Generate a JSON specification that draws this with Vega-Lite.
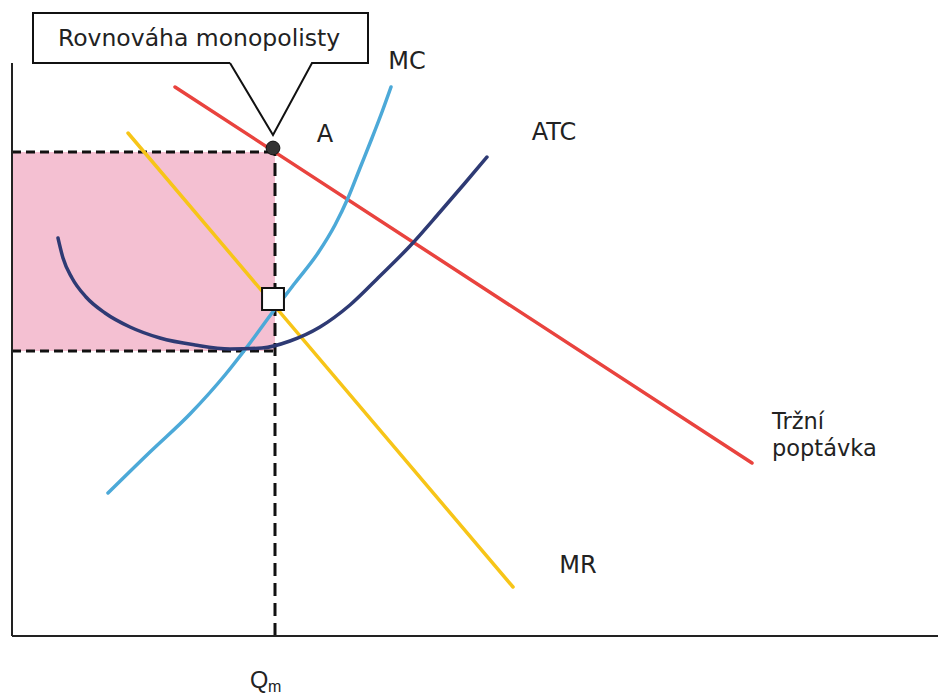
{
  "$schema": "https://vega.github.io/schema/vega-lite/v6.json",
  "width": 938,
  "height": 699,
  "autosize": {"type": "none"},
  "padding": 0,
  "background": "white",
  "config": {"view": {"stroke": null}},
  "datasets": {
    "curves": [
      {"s": "D", "q": 163, "p": 549}, {"s": "D", "q": 740, "p": 173},
      {"s": "MR", "q": 116, "p": 503}, {"s": "MR", "q": 501, "p": 49},
      {"s": "MC", "q": 96, "p": 143}, {"s": "MC", "q": 138, "p": 184}, {"s": "MC", "q": 178, "p": 222},
      {"s": "MC", "q": 213, "p": 261}, {"s": "MC", "q": 238, "p": 293}, {"s": "MC", "q": 260, "p": 323},
      {"s": "MC", "q": 283, "p": 353}, {"s": "MC", "q": 306, "p": 383}, {"s": "MC", "q": 323, "p": 411},
      {"s": "MC", "q": 336, "p": 438}, {"s": "MC", "q": 348, "p": 468}, {"s": "MC", "q": 360, "p": 498},
      {"s": "MC", "q": 370, "p": 524}, {"s": "MC", "q": 379, "p": 549},
      {"s": "ATC", "q": 46, "p": 398}, {"s": "ATC", "q": 51, "p": 378}, {"s": "ATC", "q": 60, "p": 358},
      {"s": "ATC", "q": 74, "p": 339}, {"s": "ATC", "q": 93, "p": 323}, {"s": "ATC", "q": 118, "p": 309},
      {"s": "ATC", "q": 148, "p": 298}, {"s": "ATC", "q": 183, "p": 291}, {"s": "ATC", "q": 218, "p": 287},
      {"s": "ATC", "q": 250, "p": 288}, {"s": "ATC", "q": 278, "p": 295}, {"s": "ATC", "q": 308, "p": 309},
      {"s": "ATC", "q": 338, "p": 331}, {"s": "ATC", "q": 368, "p": 360}, {"s": "ATC", "q": 398, "p": 390},
      {"s": "ATC", "q": 428, "p": 424}, {"s": "ATC", "q": 453, "p": 453}, {"s": "ATC", "q": 475, "p": 479}
    ],
    "callout": [
      {"i": 0, "q": 218, "p": 573}, {"i": 1, "q": 21, "p": 573}, {"i": 2, "q": 21, "p": 623},
      {"i": 3, "q": 356, "p": 623}, {"i": 4, "q": 356, "p": 573}, {"i": 5, "q": 300, "p": 573},
      {"i": 6, "q": 261, "p": 501}, {"i": 7, "q": 218, "p": 573}
    ],
    "labels": [
      {"t": "MC", "q": 395, "p": 574},
      {"t": "A", "q": 313, "p": 501},
      {"t": "ATC", "q": 542, "p": 503},
      {"t": "MR", "q": 566, "p": 70}
    ],
    "leftlabels": [
      {"t": "Tržní", "q": 760, "p": 207},
      {"t": "poptávka", "q": 760, "p": 180}
    ]
  },
  "encoding": {
    "x": {"type": "quantitative", "scale": {"domain": [-12, 926], "nice": false, "zero": false}, "axis": null},
    "y": {"type": "quantitative", "scale": {"domain": [-63, 636], "nice": false, "zero": false}, "axis": null}
  },
  "layer": [
    {
      "data": {"values": [{"q1": 0, "q2": 263, "p1": 285, "p2": 484}]},
      "mark": {"type": "rect", "fill": "#F4C0D2"},
      "encoding": {"x": {"field": "q1"}, "x2": {"field": "q2"}, "y": {"field": "p1"}, "y2": {"field": "p2"}}
    },
    {
      "data": {"values": [{"q1": 0, "q2": 261, "p": 484}, {"q1": 0, "q2": 263, "p": 285}]},
      "mark": {"type": "rule", "stroke": "#111", "strokeWidth": 3, "strokeDash": [9, 5]},
      "encoding": {"x": {"field": "q1"}, "x2": {"field": "q2"}, "y": {"field": "p"}}
    },
    {
      "data": {"values": [{"q": 263, "p1": 0, "p2": 484}]},
      "mark": {"type": "rule", "stroke": "#111", "strokeWidth": 3, "strokeDash": [13, 7]},
      "encoding": {"x": {"field": "q"}, "y": {"field": "p1"}, "y2": {"field": "p2"}}
    },
    {
      "data": {"values": [{"q1": 0, "q2": 0, "p1": 0, "p2": 573}, {"q1": 0, "q2": 926, "p1": 0, "p2": 0}]},
      "mark": {"type": "rule", "stroke": "#222", "strokeWidth": 2},
      "encoding": {"x": {"field": "q1"}, "x2": {"field": "q2"}, "y": {"field": "p1"}, "y2": {"field": "p2"}}
    },
    {
      "data": {"name": "curves"},
      "mark": {"type": "line", "strokeWidth": 3.5, "interpolate": "monotone", "strokeCap": "round"},
      "encoding": {
        "x": {"field": "q"},
        "y": {"field": "p"},
        "color": {"field": "s", "type": "nominal", "legend": null,
          "scale": {"domain": ["D", "MR", "MC", "ATC"], "range": ["#E9433E", "#F7C518", "#4CA9D8", "#2E3A74"]}}
      }
    },
    {
      "data": {"name": "callout"},
      "mark": {"type": "line", "stroke": "#111", "strokeWidth": 2},
      "encoding": {"x": {"field": "q"}, "y": {"field": "p"}, "order": {"field": "i"}}
    },
    {
      "data": {"values": [{"t": "Rovnováha monopolisty", "q": 187, "p": 597}]},
      "mark": {"type": "text", "font": "DejaVu Sans", "fontSize": 23.5, "color": "#222", "align": "center", "baseline": "middle"},
      "encoding": {"x": {"field": "q"}, "y": {"field": "p"}, "text": {"field": "t"}}
    },
    {
      "data": {"values": [{"q": 261, "p": 488}]},
      "mark": {"type": "point", "shape": "circle", "size": 190, "filled": true, "fill": "#333", "stroke": "#111", "strokeWidth": 1, "opacity": 1},
      "encoding": {"x": {"field": "q"}, "y": {"field": "p"}}
    },
    {
      "data": {"values": [{"q": 261, "p": 337}]},
      "mark": {"type": "point", "shape": "square", "size": 480, "filled": true, "fill": "white", "stroke": "#111", "strokeWidth": 2, "opacity": 1},
      "encoding": {"x": {"field": "q"}, "y": {"field": "p"}}
    },
    {
      "data": {"name": "labels"},
      "mark": {"type": "text", "font": "DejaVu Sans", "fontSize": 24, "color": "#222", "align": "center", "baseline": "middle"},
      "encoding": {"x": {"field": "q"}, "y": {"field": "p"}, "text": {"field": "t"}}
    },
    {
      "data": {"name": "leftlabels"},
      "mark": {"type": "text", "font": "DejaVu Sans", "fontSize": 22.5, "color": "#222", "align": "left", "baseline": "alphabetic"},
      "encoding": {"x": {"field": "q"}, "y": {"field": "p"}, "text": {"field": "t"}}
    },
    {
      "data": {"values": [{"t": "Q", "q": 238, "p": -52}]},
      "mark": {"type": "text", "font": "Liberation Sans", "fontSize": 23.5, "color": "#222", "align": "left", "baseline": "alphabetic"},
      "encoding": {"x": {"field": "q"}, "y": {"field": "p"}, "text": {"field": "t"}}
    },
    {
      "data": {"values": [{"t": "m", "q": 256, "p": -56}]},
      "mark": {"type": "text", "font": "Liberation Sans", "fontSize": 16, "color": "#222", "align": "left", "baseline": "alphabetic"},
      "encoding": {"x": {"field": "q"}, "y": {"field": "p"}, "text": {"field": "t"}}
    }
  ]
}
